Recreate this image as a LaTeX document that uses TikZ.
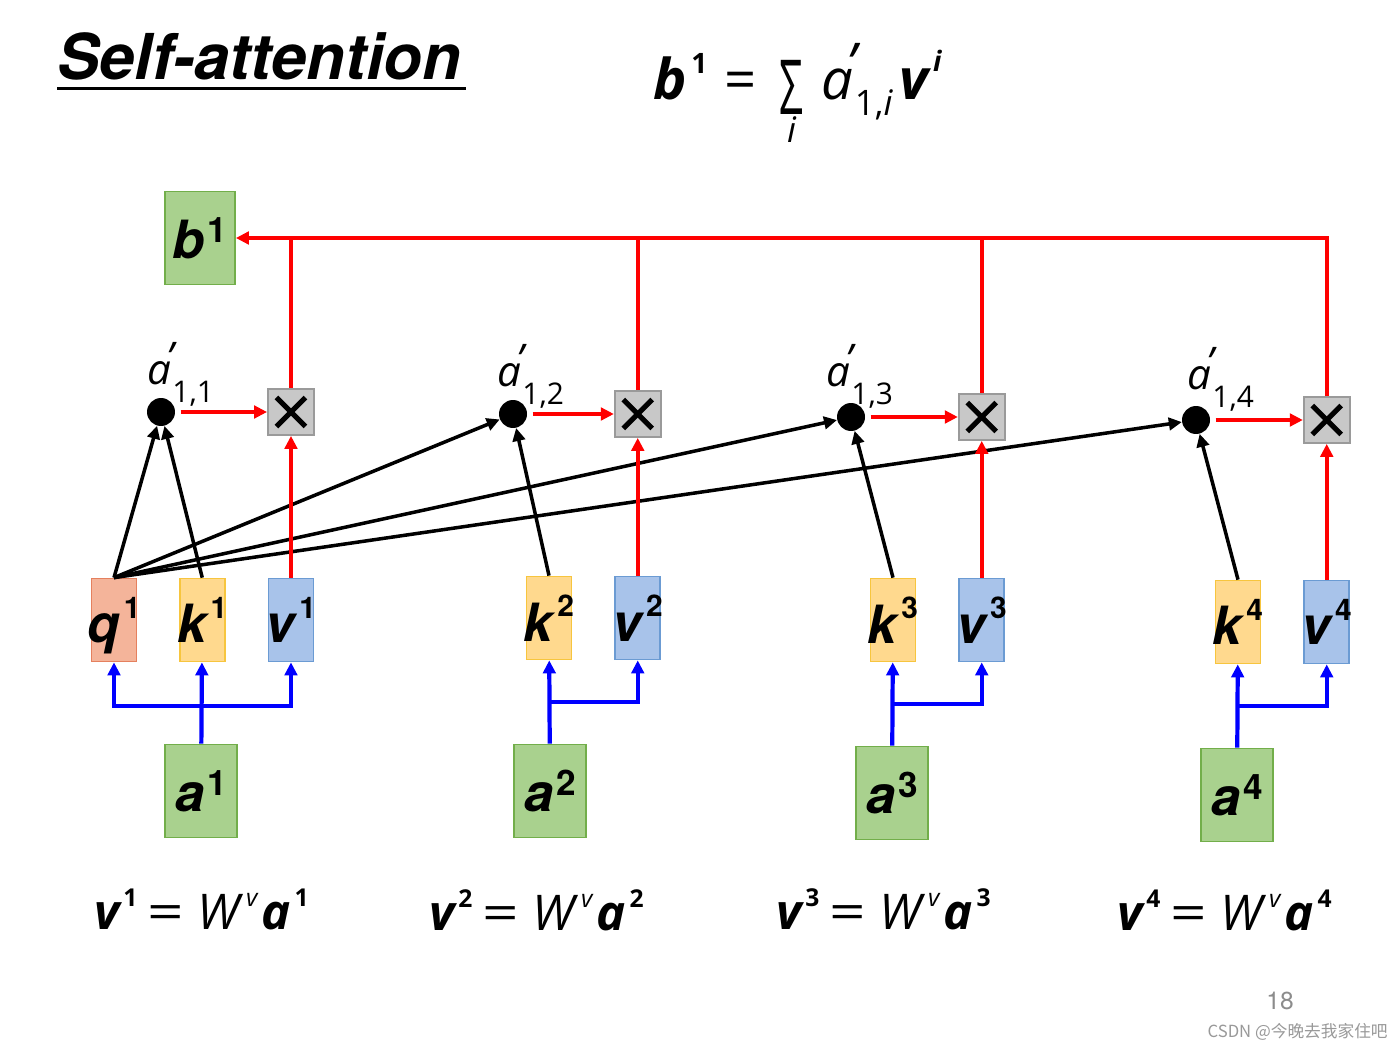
\documentclass[tikz,border=0pt]{standalone}
\usepackage{fontspec}
\usepackage{graphicx}
\setmainfont{Open Sans}
\setsansfont{TeX Gyre Heros}
\newfontfamily\cjk{Noto Sans CJK SC}
\usepackage{xcolor}
\usetikzlibrary{arrows.meta, positioning, calc}

\definecolor{qfill}{HTML}{F4B49A}
\definecolor{qdraw}{HTML}{E5805E}
\definecolor{kfill}{HTML}{FFD98E}
\definecolor{kdraw}{HTML}{F7C53E}
\definecolor{vfill}{HTML}{A8C3EA}
\definecolor{vdraw}{HTML}{6B9BD3}
\definecolor{gfill}{HTML}{A9D18E}
\definecolor{gdraw}{HTML}{72AE4A}
\definecolor{xfill}{HTML}{C8C8C8}
\definecolor{xdraw}{HTML}{9A9A9A}

% bold letter with a raised index: letter, index, index size, raise
\newcommand{\bsupp}[4]{{\bfseries\itshape #1}\kern0.08em\raisebox{#4}{\fontsize{#3}{#3}\selectfont\bfseries #2}}
% a' with a lowered index: index size, lowering, index
\newcommand{\aprime}[3]{\textit{a}\rlap{\kern-0.12em\raisebox{0.3em}{\textit{'}}}\kern0.03em\raisebox{-#2}{\fontsize{#1}{#1}\selectfont #3}}
% sum sign with i below
\newcommand{\sumi}{\leavevmode\setbox0\hbox{\scalebox{0.75}[1.35]{Σ}}\rlap{\hbox to\wd0{\hfil\raisebox{-0.76em}{\fontsize{20}{20}\selectfont\itshape i}\hfil}}\raisebox{-0.25em}{\box0}}
% labels in the boxes
\newcommand{\qkvlbl}[2]{\makebox[0pt]{#1\kern0.08em\raisebox{0.47em}{\fontsize{17}{17}\selectfont\upshape #2}}}
\newcommand{\ablbl}[3]{\makebox[0pt]{#1\kern0.05em\raisebox{#3}{\fontsize{20}{20}\selectfont\upshape #2}}}
% value formula
\newcommand{\vform}[1]{\bsupp{v}{#1}{14}{0.45em}\hspace{0.2cm}\scalebox{1.3}[1]{=}\hspace{0.26cm}\textit{W}\hspace{0.06cm}\raisebox{0.45em}{\fontsize{14}{14}\selectfont\itshape v}\hspace{0.08cm}\bsupp{a}{#1}{14}{0.45em}}

\begin{document}
\begin{tikzpicture}[
    x=0.02cm, y=-0.02cm,
    node distance=0.84cm,
    >={Triangle[length=0.26cm, width=0.25cm]},
    qkv/.style={rectangle, line width=1pt, minimum width=0.9cm, minimum height=1.66cm, inner sep=0pt, text depth=0pt, font=\sffamily\bfseries\itshape\fontsize{30}{30}\selectfont},
    qbox/.style={qkv, fill=qfill, draw=qdraw},
    kbox/.style={qkv, fill=kfill, draw=kdraw},
    vbox/.style={qkv, fill=vfill, draw=vdraw},
    inbox/.style={qkv, fill=gfill, draw=gdraw, minimum width=1.44cm, minimum height=1.86cm},
    score/.style={circle, fill=black, minimum size=0.56cm, inner sep=0pt},
    mulbox/.style={rectangle, draw=xdraw, fill=xfill, line width=1pt, minimum size=0.92cm, inner sep=0pt,
        path picture={
            \draw[black, line width=3pt] ([shift={(0.17cm,-0.17cm)}]path picture bounding box.north west) -- ([shift={(-0.17cm,0.17cm)}]path picture bounding box.south east);
            \draw[black, line width=3pt] ([shift={(0.17cm,0.17cm)}]path picture bounding box.south west) -- ([shift={(-0.17cm,-0.17cm)}]path picture bounding box.north east);
        }},
    wlabel/.style={anchor=base west, inner sep=0pt, font=\fontsize{24}{24}\selectfont},
    eq/.style={anchor=base west, inner sep=0pt, font=\fontsize{28}{28}\selectfont},
    karrow/.style={->, line width=2pt, black},
    rarrow/.style={->, line width=2pt, red},
    rline/.style={line width=2pt, red},
    barrow/.style={->, line width=2.4pt, blue}
]
    \fill[white] (0,0) rectangle (1400,1047);
    \useasboundingbox (0,0) rectangle (1400,1047);

    % Title and formula
    \node (title) [anchor=base west, inner sep=0pt, font=\sffamily\bfseries\itshape\fontsize{36}{36}\selectfont] at (57,80) {Self-attention};
    \draw[line width=1.6pt] ([yshift=-0.17cm]title.base west) -- ([xshift=0.1cm,yshift=-0.17cm]title.base east);
    \node (sum) [eq, font=\fontsize{32}{32}\selectfont] at (653,100) {\bsupp{b}{1}{16}{0.48em}\hspace{0.34cm}=\hspace{0.46cm}\sumi\hspace{0.36cm}\aprime{20}{0.28em}{1,\textit{i}}\hspace{0.14cm}\bsupp{v}{\itshape i}{16}{0.5em}};

    % Inputs
    \node (a1) [inbox] at (201,791) {\ablbl{a}{1}{0.3em}};
    \node (a2) [inbox] at (550,791) {\ablbl{a}{2}{0.3em}};
    \node (a3) [inbox] at (892,793) {\ablbl{a}{3}{0.3em}};
    \node (a4) [inbox] at (1237,795) {\ablbl{a}{4}{0.3em}};

    % Query, keys and values
    \node (q1) [qbox] at (114,620) {\qkvlbl{q}{1}};
    \node (k1) [kbox, right=0.83cm of q1] {\qkvlbl{k}{1}};
    \node (v1) [vbox, right=of k1] {\qkvlbl{v}{1}};
    \node (k2) [kbox] at (549,618) {\qkvlbl{k}{2}};
    \node (v2) [vbox, right=of k2] {\qkvlbl{v}{2}};
    \node (k3) [kbox] at (893,620) {\qkvlbl{k}{3}};
    \node (v3) [vbox, right=of k3] {\qkvlbl{v}{3}};
    \node (k4) [kbox] at (1238,622) {\qkvlbl{k}{4}};
    \node (v4) [vbox, right=of k4] {\qkvlbl{v}{4}};

    % Scores and products
    \node (d1) [score] at (161,412) {};
    \node (d2) [score] at (513,414) {};
    \node (d3) [score] at (851,417) {};
    \node (d4) [score] at (1196,420) {};
    \node (m1) [mulbox] at (v1 |- d1) {};
    \node (m2) [mulbox] at (v2 |- d2) {};
    \node (m3) [mulbox] at (v3 |- d3) {};
    \node (m4) [mulbox] at (v4 |- d4) {};
    \node (l1) [wlabel] at (147,385) {\aprime{17}{0.42em}{1,1}};
    \node (l2) [wlabel] at (497,387) {\aprime{17}{0.42em}{1,2}};
    \node (l3) [wlabel] at (826,387) {\aprime{17}{0.42em}{1,3}};
    \node (l4) [wlabel] at (1187,390) {\aprime{17}{0.42em}{1,4}};

    % Output
    \node (b1) [inbox, minimum width=1.4cm] at (200,238) {\ablbl{b}{1}{0.32em}};

    % Value formulas
    \node (f1) [eq] at (94,929) {\vform{1}};
    \node (f2) [eq] at (429,930) {\vform{2}};
    \node (f3) [eq] at (776,929) {\vform{3}};
    \node (f4) [eq] at (1117,930) {\vform{4}};

    % Page number and mark
    \node (page) [font=\sffamily\fontsize{14}{14}\selectfont, text=black!45] at (1280,1001) {18};
    \node (mark) [anchor=base east, inner sep=0pt, font=\cjk\fontsize{9.5}{10}\selectfont, text=black!40] at (1388,1037) {CSDN @今晚去我家住吧};

    % Input to q, k, v
    \coordinate (j1) at ($(a1.north)+(0,-38)$);
    \coordinate (j2) at ($(a2.north)+(0,-42)$);
    \coordinate (j3) at ($(a3.north)+(0,-42)$);
    \coordinate (j4) at ($(a4.north)+(0,-42)$);
    \draw[barrow] (a1) -- (k1);
    \draw[barrow] (j1) -| (q1);
    \draw[barrow] (j1) -| (v1);
    \draw[barrow] (a2) -- (k2);
    \draw[barrow] (j2) -| (v2);
    \draw[barrow] (a3) -- (k3);
    \draw[barrow] (j3) -| (v3);
    \draw[barrow] (a4) -- (k4);
    \draw[barrow] (j4) -| (v4);

    % Attention scores
    \draw[karrow] (q1.north) -- (d1);
    \draw[karrow] (k1.north) -- (d1);
    \draw[karrow] (q1.north) -- (d2);
    \draw[karrow] (q1.north) -- (d3);
    \draw[karrow] (q1.north) -- (d4);
    \draw[karrow] (k2.north) -- (d2);
    \draw[karrow] (k3.north) -- (d3);
    \draw[karrow] (k4.north) -- (d4);

    % Weighted sum
    \draw[rarrow, shorten <=3pt] (d1) -- (m1);
    \draw[rarrow, shorten <=3pt] (d2) -- (m2);
    \draw[rarrow, shorten <=3pt] (d3) -- (m3);
    \draw[rarrow, shorten <=3pt] (d4) -- (m4);
    \draw[rarrow] (v1) -- (m1);
    \draw[rarrow] (v2) -- (m2);
    \draw[rarrow] (v3) -- (m3);
    \draw[rarrow] (v4) -- (m4);
    \draw[rline] (m1) -- (m1 |- b1);
    \draw[rline] (m2) -- (m2 |- b1);
    \draw[rline] (m3) -- (m3 |- b1);
    \draw[rarrow] (m4) |- (b1);
\end{tikzpicture}
\end{document}
